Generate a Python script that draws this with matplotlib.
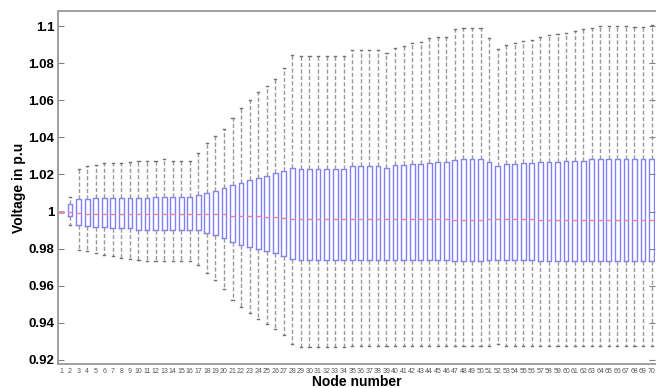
import matplotlib
matplotlib.use("Agg")
import matplotlib.pyplot as plt

nodes = list(range(1, 71))
node_labels = [str(n) for n in nodes]

whisk_hi = [1.0, 1.008, 1.0227, 1.0245, 1.025, 1.026, 1.026, 1.0263, 1.0268, 1.0274,
            1.0274, 1.0274, 1.0281, 1.0274, 1.0274, 1.0274, 1.0317, 1.0371, 1.0407, 1.0443,
            1.0506, 1.0559, 1.060, 1.0642, 1.0678, 1.0717, 1.0776, 1.0843, 1.084, 1.0836,
            1.0836, 1.0836, 1.0836, 1.0836, 1.0872, 1.0872, 1.0872, 1.0872, 1.0854, 1.0884,
            1.089, 1.0906, 1.0913, 1.0933, 1.094, 1.094, 1.0984, 1.0989, 1.0989, 1.0991,
            1.0937, 1.0876, 1.0897, 1.0908, 1.0919, 1.0926, 1.094, 1.0951, 1.0955, 1.0964,
            1.0975, 1.0984, 1.0991, 1.0999, 1.0999, 1.1, 1.1, 1.0993, 1.0993, 1.1005]

q3 = [1.0, 1.004, 1.0065, 1.0069, 1.0074, 1.0074, 1.0074, 1.0074, 1.0075, 1.0075,
      1.0075, 1.0076, 1.0076, 1.0076, 1.0076, 1.0076, 1.009, 1.0100, 1.0112, 1.0125,
      1.0145, 1.0156, 1.0169, 1.0182, 1.0190, 1.0205, 1.0218, 1.0232, 1.0229, 1.0229,
      1.0229, 1.0229, 1.0229, 1.0229, 1.0245, 1.0245, 1.0245, 1.0245, 1.0236, 1.025,
      1.025, 1.0254, 1.0256, 1.0263, 1.0267, 1.0267, 1.0276, 1.0281, 1.0281, 1.0281,
      1.0267, 1.0245, 1.0254, 1.0254, 1.026, 1.026, 1.0267, 1.0267, 1.0268, 1.0272,
      1.0274, 1.0274, 1.0281, 1.0281, 1.0281, 1.0281, 1.0281, 1.0281, 1.0281, 1.0281]

medians = [1.0, 1.0, 0.9993, 0.9988, 0.9987, 0.9986, 0.9986, 0.9986, 0.9986, 0.9986,
           0.9986, 0.9986, 0.9986, 0.9986, 0.9986, 0.9986, 0.9989, 0.9984, 0.9984, 0.9984,
           0.9978, 0.9975, 0.9975, 0.9975, 0.9971, 0.9971, 0.9963, 0.996, 0.9957, 0.9957,
           0.9957, 0.9957, 0.9957, 0.9957, 0.996, 0.996, 0.996, 0.996, 0.996, 0.996,
           0.996, 0.996, 0.996, 0.996, 0.996, 0.996, 0.9952, 0.9952, 0.9952, 0.9952,
           0.996, 0.9957, 0.9957, 0.9957, 0.9957, 0.9957, 0.9954, 0.9954, 0.9954, 0.9954,
           0.9954, 0.9954, 0.9954, 0.9954, 0.9954, 0.9954, 0.9954, 0.9954, 0.9954, 0.9954]

q1 = [1.0, 0.9975, 0.993, 0.992, 0.9916, 0.9916, 0.9912, 0.9912, 0.9912, 0.9902,
      0.9902, 0.9902, 0.9902, 0.9902, 0.9902, 0.9902, 0.9902, 0.9885, 0.9872, 0.9858,
      0.9836, 0.9822, 0.9809, 0.9797, 0.9788, 0.9777, 0.9762, 0.9744, 0.9736, 0.9736,
      0.9736, 0.9736, 0.9736, 0.9736, 0.9736, 0.9736, 0.9736, 0.9736, 0.9736, 0.9736,
      0.9736, 0.9736, 0.9736, 0.9736, 0.9736, 0.9736, 0.9732, 0.9732, 0.9732, 0.9732,
      0.9736, 0.9736, 0.9736, 0.9736, 0.9736, 0.9736, 0.9732, 0.9732, 0.9732, 0.9732,
      0.9732, 0.9732, 0.9732, 0.9732, 0.9732, 0.9732, 0.9732, 0.9732, 0.9732, 0.9732]

whisk_lo = [1.0, 0.993, 0.9795, 0.9786, 0.9777, 0.9766, 0.9759, 0.975, 0.9745, 0.974,
            0.9735, 0.9735, 0.9735, 0.9735, 0.9735, 0.9735, 0.9713, 0.9666, 0.9629, 0.9585,
            0.9524, 0.9487, 0.9452, 0.942, 0.9395, 0.9369, 0.9332, 0.9286, 0.9272, 0.9272,
            0.9272, 0.9272, 0.9272, 0.9272, 0.9276, 0.9276, 0.9276, 0.9276, 0.9276, 0.9276,
            0.9276, 0.9276, 0.9276, 0.9276, 0.9276, 0.9276, 0.9276, 0.9276, 0.9276, 0.9276,
            0.9276, 0.9286, 0.9276, 0.9276, 0.9276, 0.9276, 0.9276, 0.9276, 0.9276, 0.9276,
            0.9276, 0.9276, 0.9276, 0.9276, 0.9276, 0.9276, 0.9276, 0.9276, 0.9276, 0.9276]

y_ticks = [0.92, 0.94, 0.96, 0.98, 1.0, 1.02, 1.04, 1.06, 1.08, 1.1]
y_tick_labels = ["0.92", "0.94", "0.96", "0.98", "1", "1.02", "1.04", "1.06", "1.08", "1.1"]

plt.rcParams['font.family'] = ['Liberation Sans', 'DejaVu Sans']

fig = plt.figure(figsize=(6.56, 3.88), dpi=100)
W, H = 656, 388
ax_left, ax_right, ax_top, ax_bottom = 58.3, 655.0, 11, 364
ax = fig.add_axes([ax_left / W, 1 - ax_bottom / H, (ax_right - ax_left) / W, (ax_bottom - ax_top) / H])

stats = []
for i in range(len(nodes)):
    stats.append(dict(whislo=whisk_lo[i], q1=q1[i], med=medians[i], q3=q3[i],
                      whishi=whisk_hi[i], fliers=[]))

ax.bxp(stats, positions=nodes, widths=0.56, showfliers=False,
       boxprops=dict(color='#8080ff', linewidth=1.0),
       medianprops=dict(color='#ff8080', linewidth=1.0),
       whiskerprops=dict(color='#999999', linewidth=1.0, linestyle=(0, (3, 1.6))),
       capprops=dict(color='#707070', linewidth=1.0),
       capwidths=0.25)

ax.set_xlim(0.627, 70.4)
ax.set_ylim(0.9178, 1.1081)
ax.set_yticks(y_ticks)
ax.set_yticklabels(y_tick_labels, fontsize=9.5, fontweight='bold')
ax.set_xticks(nodes)
ax.set_xticklabels(node_labels, fontsize=5.0, color='#555555')
ax.tick_params(axis='x', length=0, pad=3.2)
ax.tick_params(axis='y', direction='in', length=4, width=0.8, color='#808080',
               right=True, pad=3)

for s in ax.spines.values():
    s.set_color('#a0a0a0')
    s.set_linewidth(1.4)
ax.spines['right'].set_visible(False)

ax.set_ylabel('Voltage in p.u', fontsize=10, fontweight='bold', labelpad=1.5)
ax.set_xlabel('Node number', fontsize=10, fontweight='bold', labelpad=0)

fig.savefig('out.png', dpi=100)
